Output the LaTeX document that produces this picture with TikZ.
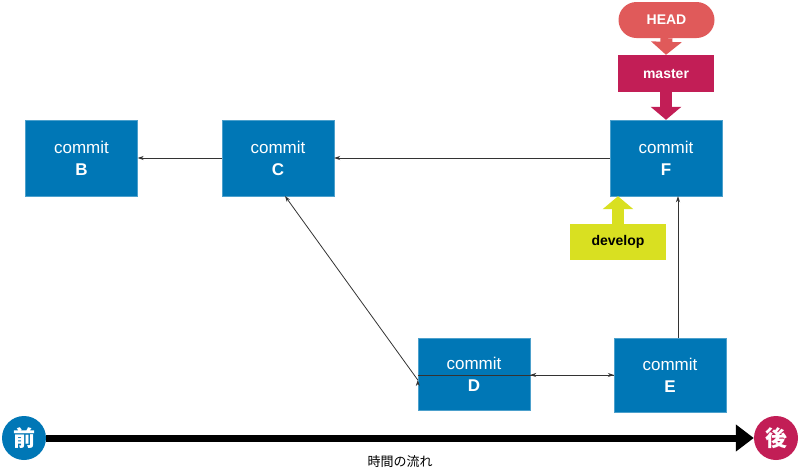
\documentclass[tikz,border=0pt]{standalone}
\usepackage{fontspec}
\setmainfont{Liberation Sans}
\newfontfamily\cjk{Noto Sans CJK JP}
\usetikzlibrary{arrows.meta}
\definecolor{cblue}{RGB}{0,119,182}
\definecolor{chead}{RGB}{224,90,90}
\definecolor{cmaster}{RGB}{194,30,86}
\definecolor{cdev}{RGB}{217,224,33}
\begin{document}
\begin{tikzpicture}[x=1pt,y=-1pt,
 commit/.style={fill=cblue,draw=cblue!70!white,minimum width=112pt,minimum height=76pt,text=white,font=\fontsize{17}{20}\selectfont,align=center,inner sep=0pt},
 lbl/.style={minimum width=96pt,minimum height=36pt,font=\bfseries\fontsize{14}{16}\selectfont,inner sep=0pt},
 edge/.style={draw=black!80,line width=0.8pt,-{Stealth[length=6pt,width=4pt]}},
 fat/.style={line width=12pt,-{Triangle[length=13pt,width=30pt]}},
 circ/.style={circle,minimum size=44pt,inner sep=0pt,text=white,font=\cjk\bfseries\fontsize{22}{24}\selectfont}]
\useasboundingbox (0,0) rectangle (800,472);
\node[commit] (B) at (81.5,158) {commit\\[2pt]\textbf{B}};
\node[commit] (C) at (278,158) {commit\\[2pt]\textbf{C}};
\node[commit] (F) at (666,158) {commit\\[2pt]\textbf{F}};
\node[commit,minimum height=72pt] (D) at (474,374) {commit\\[2pt]\textbf{D}};
\node[commit,minimum height=74pt] (E) at (670,375) {commit\\[2pt]\textbf{E}};
\node[lbl,fill=chead,text=white,rounded corners=18pt] (H) at (666.5,20) {HEAD};
\node[lbl,fill=cmaster,text=white,minimum height=37pt] (M) at (666,73.5) {master};
\node[lbl,fill=cdev,text=black] (Dv) at (618,242) {develop};
\draw[fat,chead] (H.south) -- (M.north);
\draw[fat,cmaster] (M.south) -- (F.north);
\draw[fat,cdev] (Dv.north) -- (Dv.north|-F.south);
\draw[edge] (C.west) -- (B.east);
\draw[edge] (F.west) -- (C.east);
\draw[edge] (D.west|-E.west) -- (E.west) ;
\draw[edge] (E.west) -- (E.west-|D.east);
\draw[edge] (D.west) ++(0,6) coordinate (d1);
\draw[edge] (d1) -- (285,196);
\draw[edge] (E.north-|678,0) -- (F.south-|678,0);
\node[circ,fill=cblue] (P) at (24,438) {前};
\node[circ,fill=cmaster] (A) at (776,438) {後};
\draw[line width=7pt,-{Triangle[length=18pt,width=26pt]}] (P.east) -- (A.west);
\node[font=\cjk\fontsize{13}{15}\selectfont] (T) at (400,462) {時間の流れ};
\end{tikzpicture}
\end{document}
